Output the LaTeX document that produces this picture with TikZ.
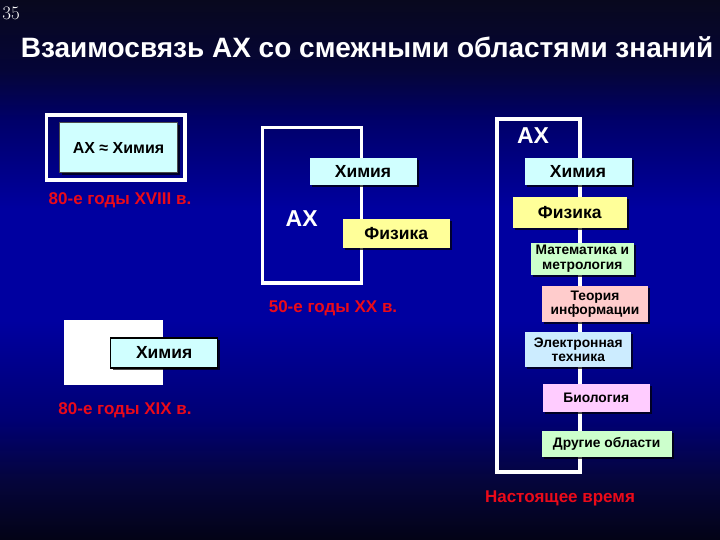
\documentclass[tikz,border=0pt]{standalone}
\usepackage{fontspec}
\setmainfont{Liberation Sans}
\newfontfamily\numfont{Latin Modern Roman}
\usetikzlibrary{shadows}
\definecolor{bgA}{RGB}{8,8,30}
\definecolor{bgB}{RGB}{5,5,55}
\definecolor{bgC}{RGB}{0,0,105}
\definecolor{bgD}{RGB}{0,0,160}
\definecolor{bgE}{RGB}{0,0,115}
\definecolor{bgF}{RGB}{5,5,60}
\definecolor{bgG}{RGB}{3,3,22}
\definecolor{cyanbox}{RGB}{208,255,255}
\definecolor{yelbox}{RGB}{255,255,153}
\definecolor{grnbox}{RGB}{204,255,204}
\definecolor{pinkbox}{RGB}{255,204,204}
\definecolor{bluebox}{RGB}{204,236,255}
\definecolor{lavbox}{RGB}{255,204,255}
\definecolor{redtxt}{RGB}{235,10,25}
\pgfdeclareverticalshading{bgshade}{100bp}{color(0bp)=(bgG); color(25bp)=(bgG); color(30.56bp)=(bgF); color(36.11bp)=(bgE); color(45.37bp)=(bgD); color(55.56bp)=(bgD); color(63.89bp)=(bgC); color(68.52bp)=(bgB); color(75bp)=(bgA); color(100bp)=(bgA)}
\tikzset{
  frameline/.style={draw=white, line width=3.5pt},
  areabox/.style={rectangle, inner sep=0pt, align=center, text=black,
    drop shadow={shadow xshift=2pt, shadow yshift=-2pt, opacity=0.7, fill=black}},
  bigtxt/.style={font=\bfseries\fontsize{17.5}{19}\selectfont},
  smalltxt/.style={font=\bfseries\fontsize{13.8}{14.5}\selectfont},
  redlabel/.style={text=redtxt, font=\bfseries\fontsize{17}{19}\selectfont},
}
\begin{document}
\begin{tikzpicture}[x=1pt, y=-1pt]
\shade[shading=bgshade] (0,0) rectangle (720,540);
\useasboundingbox (0,0) rectangle (720,540);

\node[text=white, font=\numfont\fontsize{19}{20}\selectfont, inner sep=0pt] (num) at (11,13) {35};
\node[text=white, font=\bfseries\fontsize{28}{30}\selectfont, inner sep=0pt] (title) at (367,47) {Взаимосвязь АХ со смежными областями знаний};

% Box 1
\draw[frameline] (46.7,115) rectangle (185,180);
\node[areabox, fill=cyanbox, draw=black!70, line width=0.6pt, minimum width=118pt, minimum height=50pt,
  font=\bfseries\fontsize{16}{18}\selectfont] (ax1) at (118.5,147.7) {АХ ≈ Химия};
\node[redlabel] (l1) at (120,200) {80-е годы XVIII в.};

% Box 2
\draw[frameline] (262.7,127.3) rectangle (361.7,283);
\node[text=white, font=\bfseries\fontsize{23}{25}\selectfont] (ax2) at (301.7,219) {АХ};
\node[areabox, bigtxt, fill=cyanbox, minimum width=107pt, minimum height=27pt] (chem2) at (363,171.3) {Химия};
\node[areabox, bigtxt, fill=yelbox, minimum width=107pt, minimum height=29pt] (phys2) at (396.3,233.8) {Физика};
\node[redlabel] (l2) at (333,308) {50-е годы XX в.};

% Box 4
\fill[white] (64,320) rectangle (163.3,385);
\node[areabox, bigtxt, fill=cyanbox, draw=black, line width=1.5pt, minimum width=107pt, minimum height=30pt] (chem4) at (164.2,352.8) {Химия};
\node[redlabel] (l3) at (125,410) {80-е годы XIX в.};

% Box 3
\draw[frameline] (497,119) rectangle (580,472);
\node[text=white, font=\bfseries\fontsize{23}{25}\selectfont] (ax3) at (533,136) {АХ};
\node[areabox, bigtxt, fill=cyanbox, minimum width=107pt, minimum height=27pt] (chem3) at (578,171.3) {Химия};
\node[areabox, bigtxt, fill=yelbox, minimum width=114pt, minimum height=31pt] (phys3) at (569.7,212.8) {Физика};
\node[areabox, smalltxt, fill=grnbox, minimum width=103pt, minimum height=32pt] (math3) at (582.3,258.8) {Математика и\\метрология};
\node[areabox, smalltxt, fill=pinkbox, minimum width=106pt, minimum height=36pt] (info3) at (595,304.3) {Теория\\информации};
\node[areabox, smalltxt, fill=bluebox, minimum width=106pt, minimum height=35pt] (elec3) at (578.3,349.5) {Электронная\\техника};
\node[areabox, smalltxt, fill=lavbox, minimum width=107pt, minimum height=28pt] (bio3) at (596.3,397.5) {Биология};
\node[areabox, smalltxt, fill=grnbox, minimum width=130pt, minimum height=26pt] (oth3) at (606.7,443.7) {Другие области};
\node[redlabel] (now) at (560,498) {Настоящее время};
\end{tikzpicture}
\end{document}
